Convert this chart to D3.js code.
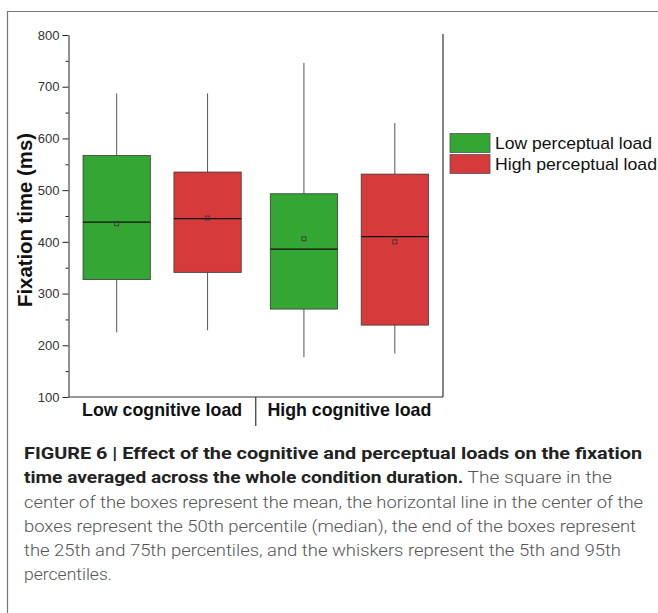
<!DOCTYPE html>
<html><head><meta charset="utf-8">
<script src="https://cdn.jsdelivr.net/npm/d3@7"></script>
<style>body{margin:0;background:#fff;}svg{display:block;font-family:Arial,"Liberation Sans",sans-serif;}</style>
</head><body>
<svg id="c" width="658" height="613"></svg>
<script>
const groups = ["Low cognitive load", "High cognitive load"];
const seriesNames = ["Low perceptual load", "High perceptual load"];
const seriesColors = ["#33a633", "#d63a3a"];
// [whiskerLow(5th), Q1, median, Q3, whiskerHigh(95th), mean] per group per series
const lowPerceptual = [[225, 327, 438, 567, 687, 435], [177, 270, 386, 493, 746, 406]];
const highPerceptual = [[229, 341, 445, 535, 687, 446], [184, 239, 410, 531, 630, 400]];
const yTicks = [100, 200, 300, 400, 500, 600, 700, 800];
const yMinorTicks = [150, 250, 350, 450, 550, 650, 750];
const captionLines = [
  [["FIGURE 6 | Effect of the cognitive and perceptual loads on the fixation", true]],
  [["time averaged across the whole condition duration.", true], [" The square in the", false]],
  [["center of the boxes represent the mean, the horizontal line in the center of the", false]],
  [["boxes represent the 50th percentile (median), the end of the boxes represent", false]],
  [["the 25th and 75th percentiles, and the whiskers represent the 5th and 95th", false]],
  [["percentiles.", false]]
];
const captionWidths = [618, 588, 619, 612, 597, 88];

const svg = d3.select("#c");
const L = 68.5, R = 443, T = 35, B = 397;
const y = d3.scaleLinear().domain([100, 800]).range([B, T]);
const x0 = d3.scaleBand().domain(groups).range([L, R]);
const x1 = d3.scaleBand().domain(seriesNames).range([0, x0.bandwidth()]).paddingInner(0.26).paddingOuter(0.16);

// frame
svg.append("path").attr("d", `M7.5,613 V11.5 H658`).attr("fill", "none").attr("stroke", "#777").attr("stroke-width", 1.2);

// y axis
const yAxis = d3.axisLeft(y).tickValues(yTicks).tickSize(6).tickPadding(3).tickSizeOuter(0);
const ga = svg.append("g").attr("transform", `translate(${L},0)`).call(yAxis);
ga.select(".domain").attr("stroke", "#222");
ga.selectAll(".tick line").attr("stroke", "#222");
ga.selectAll(".tick text").attr("font-size", 13).attr("fill", "#333").attr("font-family", "Arial,'Liberation Sans',sans-serif");
const gm = svg.append("g").attr("transform", `translate(${L},0)`)
  .call(d3.axisLeft(y).tickValues(yMinorTicks).tickSize(3).tickFormat("").tickSizeOuter(0));
gm.select(".domain").remove();
gm.selectAll(".tick line").attr("stroke", "#222");

// x axis line, right line
svg.append("line").attr("x1", L).attr("x2", R).attr("y1", B).attr("y2", B).attr("stroke", "#333").attr("stroke-width", 1.2);
svg.append("line").attr("x1", R).attr("x2", R).attr("y1", y(800) - 1).attr("y2", B).attr("stroke", "#333").attr("stroke-width", 1.2);
// group separator
svg.append("line").attr("x1", x0(groups[1])).attr("x2", x0(groups[1])).attr("y1", B).attr("y2", 426).attr("stroke", "#333").attr("stroke-width", 1.2);

// group labels
svg.selectAll("text.gl").data(groups).join("text").attr("class", "gl")
  .attr("x", d => x0(d) + x0.bandwidth() / 2).attr("y", 416).attr("text-anchor", "middle")
  .attr("font-size", 17.8).attr("font-weight", "bold").attr("fill", "#111").text(d => d);

// y label
svg.append("text").attr("transform", `translate(32,${(133 + 307) / 2}) rotate(-90)`)
  .attr("text-anchor", "middle").attr("font-size", 20).attr("font-weight", "bold").attr("fill", "#111")
  .attr("textLength", 174).attr("lengthAdjust", "spacingAndGlyphs")
  .text("Fixation time (ms)");

// boxes
const all = [lowPerceptual, highPerceptual];
all.forEach((ser, si) => {
  ser.forEach((d, gi) => {
    const [wl, q1, med, q3, wh, mean] = d;
    const bx = x0(groups[gi]) + x1(seriesNames[si]);
    const bw = x1.bandwidth();
    const cx = bx + bw / 2;
    const g = svg.append("g");
    g.append("line").attr("x1", cx).attr("x2", cx).attr("y1", y(wh)).attr("y2", y(q3)).attr("stroke", "#555");
    g.append("line").attr("x1", cx).attr("x2", cx).attr("y1", y(q1)).attr("y2", y(wl)).attr("stroke", "#555");
    g.append("rect").attr("x", bx).attr("y", y(q3)).attr("width", bw).attr("height", y(q1) - y(q3))
      .attr("fill", seriesColors[si]).attr("stroke", "#3a3a3a").attr("stroke-width", 0.8);
    g.append("line").attr("x1", bx).attr("x2", bx + bw).attr("y1", y(med)).attr("y2", y(med)).attr("stroke", "#111").attr("stroke-width", 1.2);
    g.append("rect").attr("x", cx - 2).attr("y", y(mean) - 2).attr("width", 4).attr("height", 4)
      .attr("fill", "none").attr("stroke", "#333").attr("stroke-width", 0.8);
  });
});

// legend
const lg = svg.append("g");
seriesNames.forEach((s, i) => {
  lg.append("rect").attr("x", 450).attr("y", 133.5 + i * 21).attr("width", 40).attr("height", 19)
    .attr("fill", seriesColors[i]).attr("stroke", "#555").attr("stroke-width", 0.8);
  lg.append("text").attr("x", 495).attr("y", 149 + i * 21).attr("font-size", 17).attr("fill", "#111")
    .attr("textLength", i === 0 ? 157 : 162).attr("lengthAdjust", "spacingAndGlyphs").text(s);
});

// caption
const baselines = [459, 483, 507.5, 532, 556, 580];
captionLines.forEach((line, i) => {
  const t = svg.append("text").attr("x", 24).attr("y", baselines[i]).attr("font-size", 17)
    .attr("font-family", "Roboto,'Liberation Sans',Arial,sans-serif")
    .attr("textLength", captionWidths[i]).attr("lengthAdjust", "spacingAndGlyphs");
  line.forEach(([txt, bold]) => {
    t.append("tspan").attr("font-weight", bold ? "bold" : "300").attr("fill", bold ? "#222" : "#555").text(txt);
  });
});
</script>
</body></html>
